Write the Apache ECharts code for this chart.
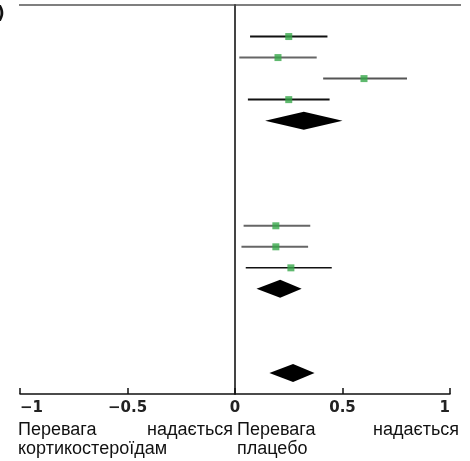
<!DOCTYPE html>
<html><head><meta charset="utf-8">
<script src="https://cdn.jsdelivr.net/npm/echarts@6/dist/echarts.min.js"></script>
<style>html,body{margin:0;padding:0;background:#fff}#c{width:470px;height:461px}</style>
</head><body><div id="c"></div>
<script>
// Study rows (row index from top), effect estimates and 95% CI
const studyRows = [0, 1, 2, 3, 9, 10, 11];
const studyMean = [0.25, 0.20, 0.60, 0.25, 0.19, 0.19, 0.26];
const studyLow  = [0.07, 0.02, 0.41, 0.06, 0.04, 0.03, 0.05];
const studyHigh = [0.43, 0.38, 0.80, 0.44, 0.35, 0.34, 0.45];
// Pooled estimates (diamonds)
const poolRows = [4, 12, 16];
const poolMean = [0.32, 0.21, 0.27];
const poolLow  = [0.14, 0.10, 0.16];
const poolHigh = [0.50, 0.31, 0.37];
// Axis ticks
const xTicks = [-1, -0.5, 0, 0.5, 1];
const leftLabel = ['Перевага', 'надається', 'кортикостероїдам'];
const rightLabel = ['Перевага', 'надається', 'плацебо'];

const lineStyles = ['#111', '#666', '#555', '#111', '#666', '#666', '#111'];

const chart = echarts.init(document.getElementById('c'), null, {renderer: 'canvas'});

const ciData = studyRows.map((r, i) => [studyLow[i], studyHigh[i], r, i]);
const ptData = studyRows.map((r, i) => [studyMean[i], r]);
const dmData = poolRows.map((r, i) => [poolLow[i], poolMean[i], poolHigh[i], r]);

const font = '"Liberation Sans", Arial, sans-serif';
const lblSize = 18;

chart.setOption({
  animation: false,
  grid: {left: 20, right: 20, top: 5, bottom: 67, outerBoundsMode: 'none', containLabel: false},
  xAxis: {
    type: 'value', min: -1, max: 1, interval: 0.5,
    splitLine: {show: false},
    axisLine: {show: true, onZero: false, lineStyle: {color: '#111', width: 1.5}},
    axisTick: {show: true, inside: true, length: 6, lineStyle: {color: '#111', width: 1.5}},
    axisLabel: {
      margin: 7, color: '#222', fontWeight: 'bold', fontSize: 15,
      fontFamily: '"DejaVu Sans", sans-serif',
      alignMinLabel: 'left', alignMaxLabel: 'right',
      formatter: v => xTicks.indexOf(v) >= 0 ? String(v).replace('-', '\u2212') : ''
    }
  },
  yAxis: {
    type: 'value', inverse: true, min: -1.5, max: 17.0,
    splitLine: {show: false},
    axisLabel: {show: false}, axisTick: {show: false},
    axisLine: {show: true, onZero: true, lineStyle: {color: '#444', width: 2}}
  },
  graphic: [
    {type: 'line', shape: {x1: 19, y1: 5, x2: 461, y2: 5}, style: {stroke: '#555', lineWidth: 1.5}},
    {type: 'text', left: -3, top: 6, style: {text: ')', font: 'bold 17px "DejaVu Sans", sans-serif', fill: '#111'}},
    {type: 'text', x: 18, y: 430, style: {text: leftLabel[0], font: lblSize + 'px ' + font, fill: '#111', textAlign: 'left', textVerticalAlign: 'middle'}},
    {type: 'text', x: 233, y: 430, style: {text: leftLabel[1], font: lblSize + 'px ' + font, fill: '#111', textAlign: 'right', textVerticalAlign: 'middle'}},
    {type: 'text', x: 18, y: 449, style: {text: leftLabel[2], font: lblSize + 'px ' + font, fill: '#111', textAlign: 'left', textVerticalAlign: 'middle'}},
    {type: 'text', x: 237, y: 430, style: {text: rightLabel[0], font: lblSize + 'px ' + font, fill: '#111', textAlign: 'left', textVerticalAlign: 'middle'}},
    {type: 'text', x: 459, y: 430, style: {text: rightLabel[1], font: lblSize + 'px ' + font, fill: '#111', textAlign: 'right', textVerticalAlign: 'middle'}},
    {type: 'text', x: 237, y: 449, style: {text: rightLabel[2], font: lblSize + 'px ' + font, fill: '#111', textAlign: 'left', textVerticalAlign: 'middle'}}
  ],
  series: [
    {
      type: 'custom', data: ciData, z: 2,
      renderItem: (params, api) => {
        const a = api.coord([api.value(0), api.value(2)]);
        const b = api.coord([api.value(1), api.value(2)]);
        const idx = api.value(3);
        return {type: 'line', shape: {x1: a[0], y1: a[1], x2: b[0], y2: b[1]},
          style: {stroke: lineStyles[idx], lineWidth: idx === 6 ? 1.5 : 2}};
      }
    },
    {
      type: 'scatter', data: ptData, symbol: 'rect', symbolSize: 7, z: 3,
      itemStyle: {color: '#37a84a'}
    },
    {
      type: 'custom', data: dmData, z: 2,
      renderItem: (params, api) => {
        const l = api.coord([api.value(0), api.value(3)]);
        const m = api.coord([api.value(1), api.value(3)]);
        const h = api.coord([api.value(2), api.value(3)]);
        const hh = 9;
        return {type: 'polygon', shape: {points: [[l[0], l[1]], [m[0], m[1] - hh], [h[0], h[1]], [m[0], m[1] + hh]]},
          style: {fill: '#000'}};
      }
    }
  ]
});
</script></body></html>
